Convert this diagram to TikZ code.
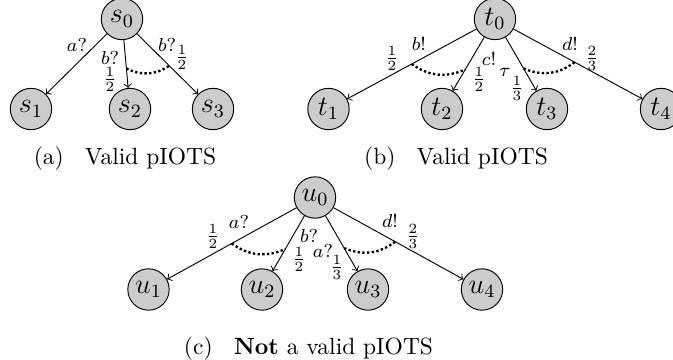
\documentclass[tikz,border=0pt]{standalone}
\usetikzlibrary{calc}
\begin{document}
\begin{tikzpicture}[x=0.4255pt,y=-0.4255pt,
  st/.style={circle,draw,fill=black!20,minimum size=17.6pt,inner sep=0pt,font=\large},
  tr/.style={->},
  lb/.style={font=\footnotesize,inner sep=0pt},
  arcdots/.style={line width=1pt,densely dotted},
  captxt/.style={font=\normalsize,inner sep=0pt,anchor=base}]
\useasboundingbox (0,0) rectangle (673,360);
% (a)
\node[st] (s0) at (122,19) {$s_0$};
\node[st] (s1) at (31,109) {$s_1$};
\node[st] (s2) at (130,109) {$s_2$};
\node[st] (s3) at (213,109) {$s_3$};
\draw[tr] (s0) -- (s1);
\draw[tr] (s0) -- (s2);
\draw[tr] (s0) -- (s3);
\node[lb] (la1) at (77,45) {$a?$};
\node[lb] (la2) at (110,58) {$b?$};
\node[lb] (la3) at (110,79) {$\frac{1}{2}$};
\node[lb] (la4) at (167,45) {$b?$};
\node[lb] (la5) at (182,57) {$\frac{1}{2}$};
\coordinate (sa) at ($(s0)!0.55!(s2)$);
\coordinate (sb) at ($(s0)!0.52!(s3)$);
\draw[arcdots] (sa) to[bend right=30] (sb);
\node[captxt] (capa) at (125,165) {(a)\hspace{0.9em}Valid pIOTS};
% (b)
\node[st] (t0) at (495,19) {$t_0$};
\node[st] (t1) at (328.5,109) {$t_1$};
\node[st] (t2) at (442,109) {$t_2$};
\node[st] (t3) at (547,109) {$t_3$};
\node[st] (t4) at (661,109) {$t_4$};
\draw[tr] (t0) -- (t1);
\draw[tr] (t0) -- (t2);
\draw[tr] (t0) -- (t3);
\draw[tr] (t0) -- (t4);
\node[lb] (lb1) at (392,58) {$\frac{1}{2}$};
\node[lb] (lb2) at (419,44) {$b!$};
\node[lb] (lb3) at (489,59) {$c!$};
\node[lb] (lb4) at (479,79) {$\frac{1}{2}$};
\node[lb] (lb5) at (505,72) {$\tau$};
\node[lb] (lb6) at (517,88) {$\frac{1}{3}$};
\node[lb] (lb7) at (570,44) {$d!$};
\node[lb] (lb8) at (592,58) {$\frac{2}{3}$};
\coordinate (ta) at ($(t0)!0.5!(t1)$);
\coordinate (tb) at ($(t0)!0.56!(t2)$);
\coordinate (tc) at ($(t0)!0.55!(t3)$);
\coordinate (td) at ($(t0)!0.48!(t4)$);
\draw[arcdots] (ta) to[bend right=30] (tb);
\draw[arcdots] (tc) to[bend right=30] (td);
\node[captxt] (capb) at (456,165) {(b)\hspace{0.9em}Valid pIOTS};
% (c)
\node[st] (u0) at (315,197.5) {$u_0$};
\node[st] (u1) at (148.5,289.5) {$u_1$};
\node[st] (u2) at (262,289.5) {$u_2$};
\node[st] (u3) at (368,289.5) {$u_3$};
\node[st] (u4) at (482,289.5) {$u_4$};
\draw[tr] (u0) -- (u1);
\draw[tr] (u0) -- (u2);
\draw[tr] (u0) -- (u3);
\draw[tr] (u0) -- (u4);
\node[lb] (lc1) at (213,236) {$\frac{1}{2}$};
\node[lb] (lc2) at (239,222) {$a?$};
\node[lb] (lc3) at (309,236) {$b?$};
\node[lb] (lc4) at (299,259) {$\frac{1}{2}$};
\node[lb] (lc5) at (323,251) {$a?$};
\node[lb] (lc6) at (337,267) {$\frac{1}{3}$};
\node[lb] (lc7) at (390,221) {$d!$};
\node[lb] (lc8) at (413,236) {$\frac{2}{3}$};
\coordinate (ua) at ($(u0)!0.5!(u1)$);
\coordinate (ub) at ($(u0)!0.56!(u2)$);
\coordinate (uc) at ($(u0)!0.55!(u3)$);
\coordinate (ud) at ($(u0)!0.48!(u4)$);
\draw[arcdots] (ua) to[bend right=30] (ub);
\draw[arcdots] (uc) to[bend right=30] (ud);
\node[captxt] (capc) at (308.5,354) {(c)\hspace{0.9em}\textbf{Not} a valid pIOTS};
\end{tikzpicture}
\end{document}
